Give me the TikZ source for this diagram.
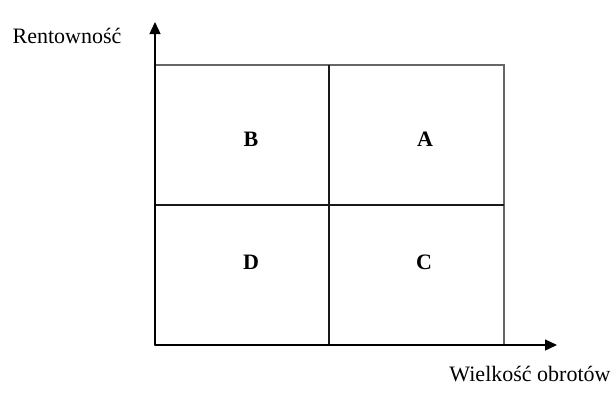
\documentclass[tikz,border=0pt]{standalone}
\usepackage{fontspec}
\setmainfont{Liberation Serif}
\usetikzlibrary{arrows.meta,positioning}

\begin{document}
\begin{tikzpicture}[
  x=1pt,y=-1pt,
  font=\fontsize{22}{26}\selectfont,
  axis/.style={line width=1.3pt,-{Triangle[length=12pt,width=11pt]}},
  frame/.style={draw=black!60,line width=1.3pt},
  split/.style={draw=black!90,line width=1.2pt},
  quad/.style={font=\fontsize{22}{26}\selectfont\bfseries}
]
  \useasboundingbox (0,0) rectangle (616,392);
  % matrix frame
  \draw[frame] (155,65) rectangle (504,345);
  \draw[split] (329,65) -- (329,345);
  \draw[split] (155,205) -- (504,205);
  % axes
  \coordinate (o) at (155,345);
  \coordinate (ytip) at (155,22);
  \coordinate (xtip) at (557,345);
  \draw[axis] (o) -- (ytip);
  \draw[axis] (o) -- (xtip);
  \node (ylab) at (67,36) {Rentowność};
  \node (xlab) at (530,374) {Wielkość obrotów};
  % quadrants
  \node[quad] (qb) at (251,139) {B};
  \node[quad] (qa) at (425,139) {A};
  \node[quad] (qd) at (251,262) {D};
  \node[quad] (qc) at (424,262) {C};
\end{tikzpicture}
\end{document}
